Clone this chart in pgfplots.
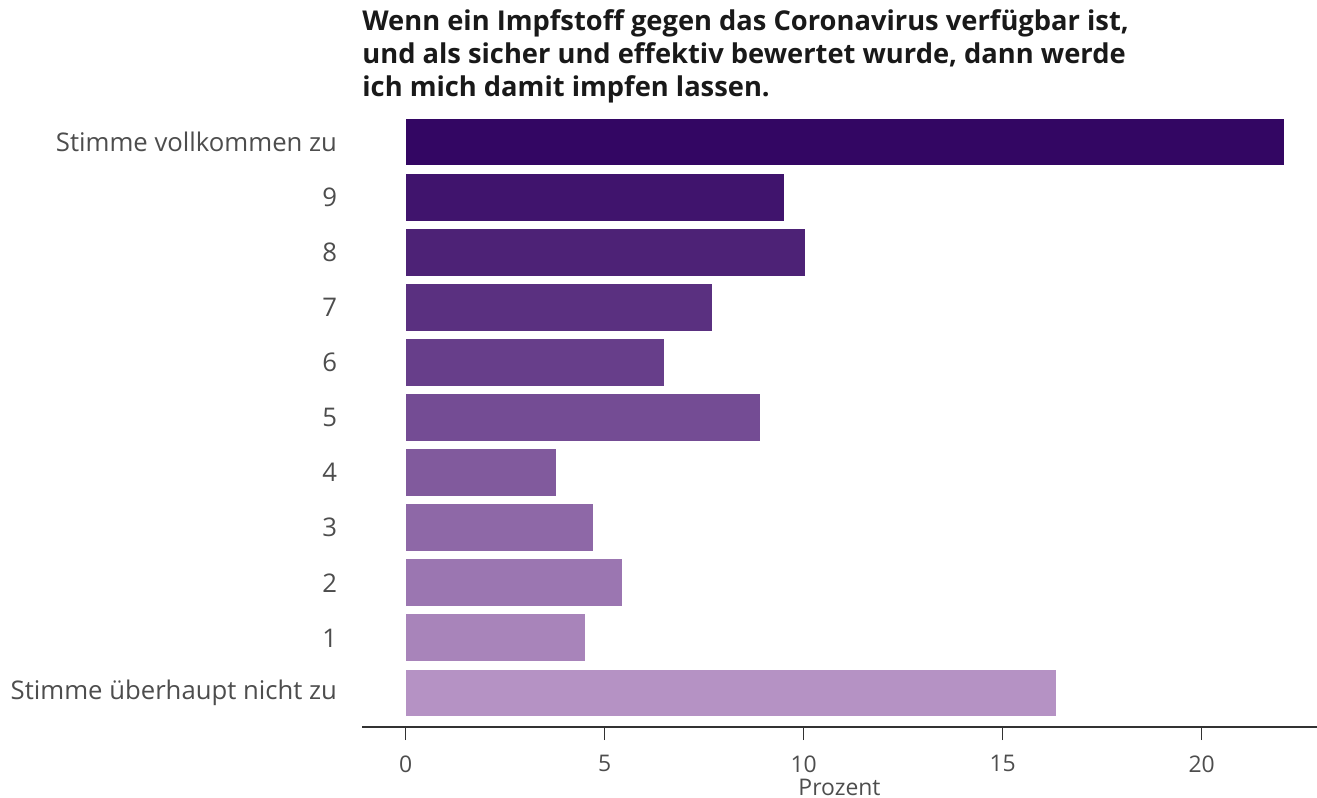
\documentclass[border=0pt]{standalone}
\usepackage{fontspec}
\setmainfont{Open Sans}
\usepackage{pgfplots}
\pgfplotsset{compat=1.18}
\definecolor{c10}{RGB}{51,6,99}
\definecolor{c9}{RGB}{64,20,109}
\definecolor{c8}{RGB}{77,34,118}
\definecolor{c7}{RGB}{90,48,128}
\definecolor{c6}{RGB}{103,62,138}
\definecolor{c5}{RGB}{116,76,148}
\definecolor{c4}{RGB}{129,90,157}
\definecolor{c3}{RGB}{142,104,167}
\definecolor{c2}{RGB}{155,118,177}
\definecolor{c1}{RGB}{168,132,186}
\definecolor{c0}{RGB}{181,146,196}
\definecolor{lbl}{RGB}{77,77,77}
\definecolor{axl}{RGB}{50,50,50}
\begin{document}
\begin{tikzpicture}
\useasboundingbox (-181bp,-35.5bp) rectangle (477.5bp,363.5bp);
\begin{axis}[
  at={(0,0)}, anchor=south west,
  scale only axis,
  width=477.5bp, height=304.5bp,
  xmin=-1.1, xmax=22.9,
  ymin=-0.617, ymax=10.436,
  xbar, bar width=0.87, bar shift=0,
  axis x line*=bottom,
  axis y line=none,
  x axis line style={color=axl, line width=0.75bp, -},
  xtick={0,5,10,15,20},
  xtick style={color=axl, line width=0.6bp},
  tick align=outside,
  major tick length=6.5bp,
  xticklabel style={font=\fontsize{11.5}{13}\selectfont, text=lbl, inner sep=0pt, yshift=-7.5bp},
  /pgf/number format/assume math mode=true,
  xlabel={Prozent},
  xlabel style={font=\fontsize{11.5}{13}\selectfont, text=lbl, inner sep=0pt,
    at={(axis description cs:0.5,0)}, anchor=center, yshift=-30bp},
  clip=false,
  every axis plot/.append style={draw=white, line width=0.5bp},
]
\addplot[fill=c0] coordinates {(16.36,0)};
\addplot[fill=c1] coordinates {(4.52,1)};
\addplot[fill=c2] coordinates {(5.45,2)};
\addplot[fill=c3] coordinates {(4.72,3)};
\addplot[fill=c4] coordinates {(3.79,4)};
\addplot[fill=c5] coordinates {(8.92,5)};
\addplot[fill=c6] coordinates {(6.51,6)};
\addplot[fill=c7] coordinates {(7.71,7)};
\addplot[fill=c8] coordinates {(10.05,8)};
\addplot[fill=c9] coordinates {(9.52,9)};
\addplot[fill=c10] coordinates {(22.08,10)};
\end{axis}
\begin{axis}[
  at={(0,0)}, anchor=south west,
  scale only axis,
  width=477.5bp, height=304.5bp,
  xmin=-1.1, xmax=22.9,
  ymin=-0.617, ymax=10.436,
  hide x axis,
  axis y line*=left,
  y axis line style={draw=none},
  ytick={0,1,2,3,4,5,6,7,8,9,10},
  yticklabels={Stimme überhaupt nicht zu,1,2,3,4,5,6,7,8,9,Stimme vollkommen zu},
  ytick style={draw=none},
  yticklabel style={font=\fontsize{12.9}{14}\selectfont, text=lbl, anchor=east, xshift=-9bp},
  title={Wenn ein Impfstoff gegen das Coronavirus verfügbar ist,\\und als sicher und effektiv bewertet wurde, dann werde\\ich mich damit impfen lassen.},
  title style={at={(0,1)}, anchor=south west, align=left, inner sep=0pt, yshift=1.5bp,
    font=\fontsize{13.7}{16.5}\selectfont\bfseries, text=black!90},
]
\addplot[draw=none] coordinates {(0,0)};
\end{axis}
\end{tikzpicture}
\end{document}
